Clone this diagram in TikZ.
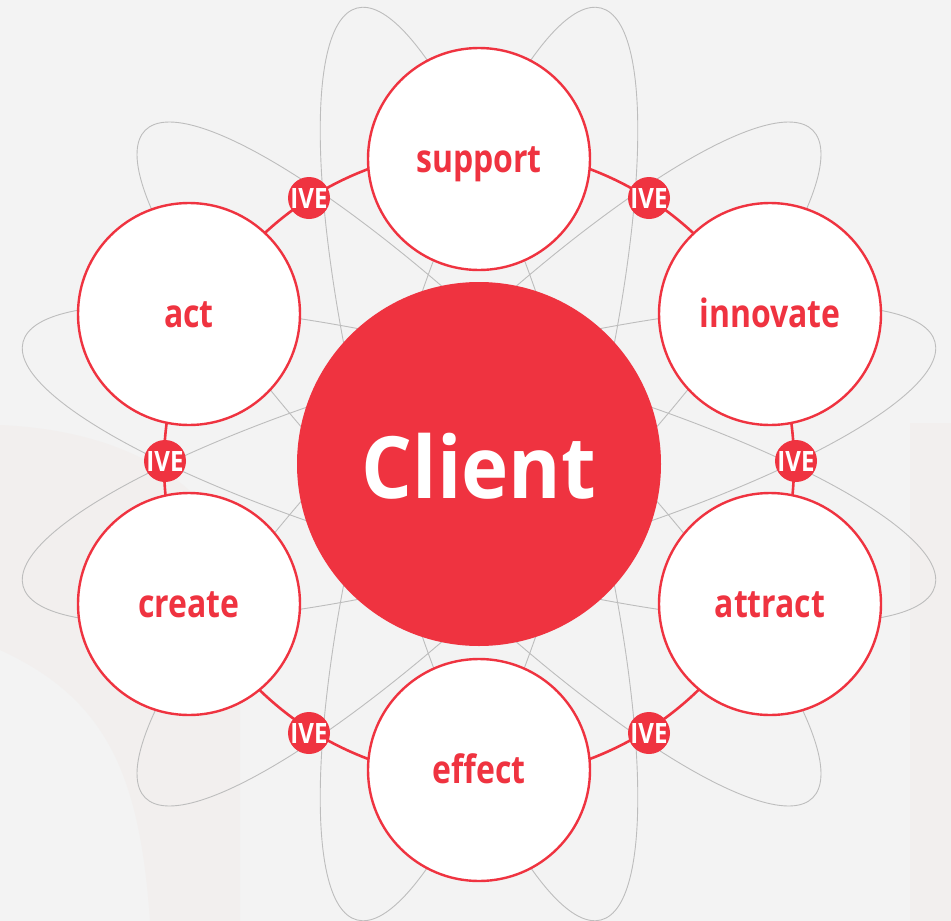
\documentclass[tikz,border=0pt]{standalone}
\usepackage{fontspec}
\setmainfont{Open Sans}
\newfontfamily\labfont{Open Sans}[FakeStretch=0.82]
\newfontfamily\badgefont{Open Sans}[FakeStretch=0.86]
\newfontfamily\clientfont{Open Sans}[FakeStretch=0.93]
\definecolor{bgc}{HTML}{F3F3F3}
\definecolor{faint}{HTML}{F2EFEE}
\definecolor{brandred}{HTML}{EF3340}
\definecolor{orbitgrey}{HTML}{BDBDBD}
\tikzset{
  orbit/.style={draw=orbitgrey, line width=0.9pt},
  ringline/.style={draw=brandred, line width=2.6pt},
  clientnode/.style={circle, fill=brandred, minimum size=364pt, inner sep=0pt},
  satnode/.style={circle, draw=brandred, fill=white, line width=2.4pt, minimum size=222pt, inner sep=0pt},
  satlabel/.style={anchor=base, text=brandred, font=\labfont\bfseries\fontsize{39}{39}\selectfont, inner sep=0pt},
  clientlabel/.style={text=white, font=\clientfont\bfseries\fontsize{86}{86}\selectfont, inner sep=0pt},
  badge/.style={circle, fill=brandred, minimum size=42pt, inner sep=0pt},
  badgelabel/.style={anchor=base, text=white, font=\badgefont\bfseries\fontsize{28}{28}\selectfont, inner sep=0pt},
}
\begin{document}
\begin{tikzpicture}[x=1pt,y=-1pt]
\useasboundingbox (0,0) rectangle (951,921);
\fill[bgc] (0,0) rectangle (951,921);
% faint background shapes
\fill[faint] (0,425) .. controls (110,430) and (200,470) .. (240,560) -- (240,921) -- (150,921) .. controls (140,780) and (110,700) .. (0,650) -- cycle;
\fill[faint] (910,423) rectangle (951,921);
\coordinate (c) at (479,464);
% orbits
\foreach \ang in {15,45,75,105,135,165}
  \draw[orbit, rotate around={\ang:(c)}] (c) ellipse [x radius=472, y radius=105];
% ring
\draw[ringline] (c) circle [radius=315];
% client
\node[clientnode] (client) at (c) {};
\node[clientlabel] (clienttext) at ([yshift=-2pt]client.center) {Client};
% satellites
\node[satnode] (sup) at (479,159) {};
\node[satnode] (inn) at (770,314) {};
\node[satnode] (att) at (770,604) {};
\node[satnode] (eff) at (479,770) {};
\node[satnode] (cre) at (189,604) {};
\node[satnode] (act) at (189,314) {};
\node[satlabel] (supt) at ([yshift=-13.5pt]sup.center) {support};
\node[satlabel] (innt) at ([yshift=-13.5pt]inn.center) {innovate};
\node[satlabel] (attt) at ([yshift=-13.5pt]att.center) {attract};
\node[satlabel] (efft) at ([yshift=-13.5pt]eff.center) {effect};
\node[satlabel] (cret) at ([yshift=-13.5pt]cre.center) {create};
\node[satlabel] (actt) at ([yshift=-13.5pt]act.center) {act};
% badges
\foreach \n/\p in {b1/{(309,198)}, b2/{(649,198)}, b3/{(165,461)}, b4/{(796,461)}, b5/{(309,733)}, b6/{(649,733)}} {
  \node[badge] (\n) at \p {};
  \node[badgelabel] (\n t) at ([yshift=-10pt]\n.center) {IVE};
}
\end{tikzpicture}
\end{document}
